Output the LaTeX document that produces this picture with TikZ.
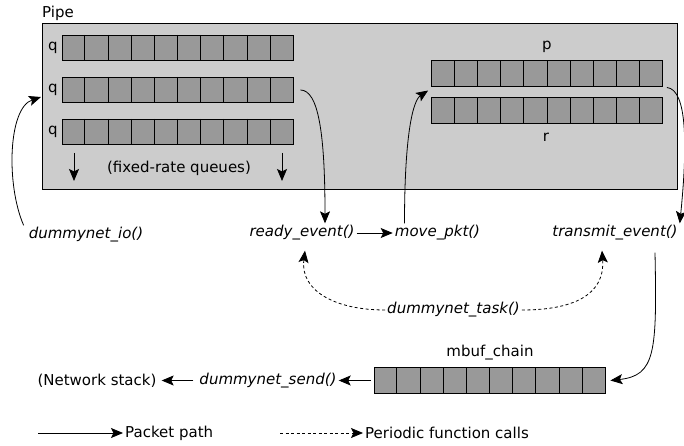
\documentclass[tikz,border=0pt]{standalone}
\usepackage{fontspec}
\setmainfont{DejaVu Sans}
\usetikzlibrary{arrows.meta,calc}

\definecolor{pipegray}{HTML}{CCCCCC}
\definecolor{cellgray}{HTML}{999999}

\tikzset{
    pkt/.style = {-{Stealth[length=12pt, width=10pt, inset=2.5pt]}, line width=0.8pt},
    periodic/.style = {pkt, dash pattern=on 3pt off 2.5pt},
    qrow/.style = {draw, fill=cellgray, line width=0.8pt, minimum width=231pt, minimum height=25.5pt, inner sep=0pt},
    lbl/.style = {inner sep=2pt, font=\fontsize{15}{18}\selectfont},
    fn/.style = {inner sep=2pt, font=\fontsize{15}{18}\selectfont\itshape},
}

% cell borders of a queue
\newcommand{\cells}[1]{%
    \foreach \k in {1,...,9}
        \draw[line width=0.8pt] ($(#1.north west)!\k/10!(#1.north east)$) -- ($(#1.south west)!\k/10!(#1.south east)$);
}

\begin{document}
\begin{tikzpicture}[x = 1pt, y = -1pt]
                \useasboundingbox (0, 0) rectangle (684, 446);

                \node[draw, fill=pipegray, line width=0.8pt, minimum width=635pt, minimum height=166pt] (pipe) at (359.5, 106) {};
                \node[lbl, anchor=west] (pipelbl) at (40, 13) {Pipe};

                \node[qrow] (q1) at (177.5, 48) {};
                \node[qrow] (q2) at (177.5, 90) {};
                \node[qrow] (q3) at (177.5, 132) {};
                \node[qrow] (p) at (547, 73.5) {};
                \node[qrow] (r) at (547, 110.5) {};
                \node[qrow] (mbuf) at (489.5, 380.5) {};
                \cells{q1} \cells{q2} \cells{q3} \cells{p} \cells{r} \cells{mbuf}

                \node[lbl] (q1l) at (53, 48) {q};
                \node[lbl] (q2l) at (53, 90) {q};
                \node[lbl] (q3l) at (53, 132) {q};
                \node[lbl] (pl) at (547, 47) {p};
                \node[lbl] (rl) at (546, 137) {r};
                \node[lbl] (fixed) at (179, 168) {(fixed-rate queues)};
                \node[lbl] (mbufl) at (490, 353) {mbuf\_chain};

                \coordinate (d1) at (74, 153);
                \coordinate (d2) at (282, 153);
                \draw[pkt] (d1) to ++(0, 28);
                \draw[pkt] (d2) to ++(0, 28);

                \node[fn] (io) at (86, 235) {dummynet\_io()};
                \node[fn] (ready) at (302, 233) {ready\_event()};
                \node[fn] (move) at (437.5, 233) {move\_pkt()};
                \node[fn] (transmit) at (615, 233) {transmit\_event()};
                \node[fn] (task) at (453.5, 310) {dummynet\_task()};
                \node[fn] (send) at (268, 380.5) {dummynet\_send()};
                \node[lbl] (net) at (97, 380.5) {(Network stack)};

                \coordinate (pin) at (41, 97);
                \draw[pkt] ([xshift=-3pt]io.north west) .. controls (6, 185) and (8, 108) .. (pin);
                \draw[pkt] ([xshift=7pt]q2.east) .. controls +(18, 0) and +(0, -90) .. ([xshift=23pt]ready.north);
                \draw[pkt] (ready.east) to (move.west);
                \draw[pkt] ([xshift=-33pt]move.north) .. controls +(0, -90) and +(-15, 10) .. ([xshift=-3pt, yshift=-17pt]p.west);
                \draw[pkt] ([xshift=4pt, yshift=-14pt]p.east) .. controls +(20, 2) and +(8, -80) .. (transmit.north east);
                \draw[pkt] ([xshift=40pt, yshift=-10pt]transmit.south) .. controls +(2, 100) and +(45, -5) .. ([xshift=5pt]mbuf.east);
                \draw[pkt] ([xshift=-3pt]mbuf.west) to (send.east);
                \draw[pkt, shorten <=4pt, shorten >=3pt] (send.west) to (net.east);

                \draw[periodic] (task.west) .. controls +(-50, 0) and +(-5, 40) .. ([xshift=3pt, yshift=-8pt]ready.south);
                \draw[periodic] (task.east) .. controls +(50, 0) and +(3, 45) .. ([xshift=-13pt, yshift=-8pt]transmit.south);

                \node[lbl, anchor=west] (pp) at (123, 433) {Packet path};
                \node[lbl, anchor=west] (pf) at (363, 433) {Periodic function calls};
                \coordinate (leg1) at (38, 433);
                \coordinate (leg2) at (280, 433);
                \draw[pkt] (leg1) to (pp.west);
                \draw[periodic] (leg2) to (pf.west);
            \end{tikzpicture}
\end{document}
